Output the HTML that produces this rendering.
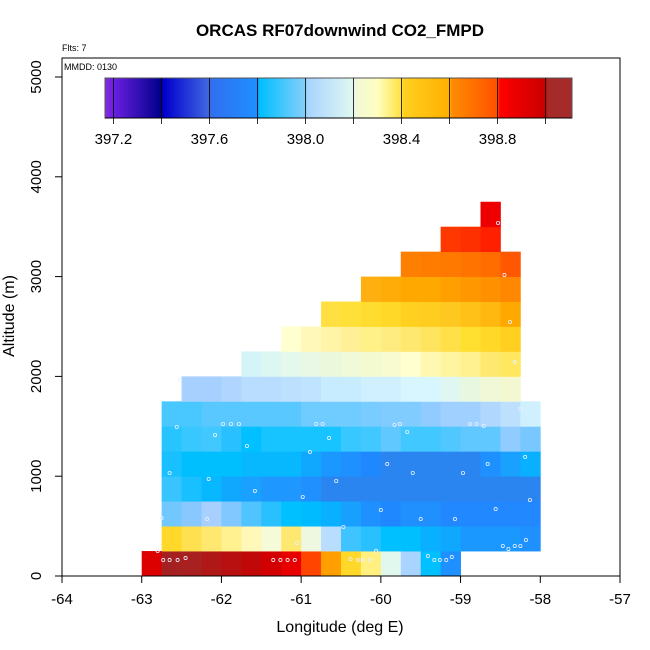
<!DOCTYPE html>
<html><head><meta charset="utf-8"><style>
body{margin:0;background:#fff}
svg{display:block;font-family:"Liberation Sans",Arial,sans-serif}
</style></head><body>
<svg id="chart" width="650" height="650" viewBox="0 0 650 650" xmlns="http://www.w3.org/2000/svg">
<text x="340" y="36" text-anchor="middle" font-size="17" font-weight="bold">ORCAS RF07downwind CO2_FMPD</text>
<text x="62" y="51" font-size="9">Flts: 7</text>
<g id="cells"></g>
<g id="points"></g>
<rect x="62" y="58" width="558" height="518" fill="none" stroke="#000" stroke-width="1"/>
<text x="64" y="70" font-size="9">MMDD: 0130</text>
<g id="cbar"></g>
<g id="axes"></g>
<text x="340" y="632" text-anchor="middle" font-size="16">Longitude (deg E)</text>
<text transform="translate(14,316) rotate(-90)" text-anchor="middle" font-size="16">Altitude (m)</text>
</svg>
<script>
const xTicks=[-64,-63,-62,-61,-60,-59,-58,-57];
const yTicks=[0,1000,2000,3000,4000,5000];
const rowAlt=[0,250,500,750,1000,1250,1500,1750,2000,2250,2500,2750,3000,3250,3500];
const rowLonStart=[-63,-62.75,-62.75,-62.75,-62.75,-62.75,-62.75,-62.5,-61.75,-61.25,-60.75,-60.25,-59.75,-59.25,-58.75];
const rowColors=[
["#dd0000","#a52020","#a82020","#b01818","#b81010","#c00808","#d20000","#e80000","#ff4500","#ffa000","#ffd82a","#fff080","#e0f8ee","#a8d4ff","#00c0ff","#1e90ff"],
["#ffd82a","#ffe050","#ffe870","#fff090","#fff8b8","#f5fad8","#ffe870","#eef8e0","#b8ddff","#40c4ff","#28c0ff","#00c0ff","#00bfff","#08b0ff","#10a8ff","#1a98ff","#1a98ff","#1a98ff","#1e90ff"],
["#70c8ff","#88c8ff","#a8d0ff","#80c8ff","#50c4ff","#28c0ff","#00c0ff","#00bbff","#08b0ff","#18a0ff","#1e90ff","#2088ff","#2090ff","#2090ff","#2288ff","#2288ff","#2288ff","#2288ff","#2288ff"],
["#38c4ff","#18c0ff","#08b8ff","#10a8ff","#1aa0ff","#1e98ff","#1e98ff","#2090ff","#2a85f0","#2a85f0","#2a85f0","#2a85f0","#2a85f0","#2a85f0","#2a85f0","#2a85f0","#2a85f0","#2a85f0","#2a85f0"],
["#18c0ff","#00bfff","#00bfff","#00bfff","#08b8ff","#08b8ff","#08b8ff","#10a8ff","#1a98ff","#1e90ff","#2088ff","#2a85f0","#2a85f0","#2a85f0","#2a85f0","#2a85f0","#1e90ff","#1aa0ff","#08b0ff"],
["#28c4ff","#38c8ff","#40c8ff","#28c0ff","#00c0ff","#18c4ff","#18c4ff","#18c4ff","#18c4ff","#38c8ff","#40c8ff","#60c8ff","#40c8ff","#40c8ff","#50c8ff","#60c8ff","#60c8ff","#90ccff","#78c8ff"],
["#48c8ff","#48c8ff","#58c8ff","#58c8ff","#58c8ff","#58c8ff","#58c8ff","#70ccff","#70ccff","#70ccff","#78ccff","#80ccff","#80ccff","#90ccff","#a0d0ff","#a0d0ff","#b0d8ff","#bde0ff","#d0f0ff"],
["#a8d0ff","#a8d0ff","#b0d6ff","#b8ddff","#b8ddff","#bde0ff","#c0e4ff","#c8ecff","#c8ecff","#d0f0ff","#d0f0ff","#d8f6ff","#d8f6ff","#e0f6f0","#e8f8e0","#f0f8d8","#f4f8d0"],
["#d4f4f8","#dcf6f2","#e4f8ec","#e8f8e4","#ecf8dc","#f0fad8","#f4fad0","#f8fad0","#ffffd0","#fff8b0","#fff4a0","#fff090","#ffe870","#ffe860"],
["#ffffd0","#fff8b8","#fff4a8","#fff098","#fff088","#ffec80","#ffe870","#ffe460","#ffe048","#ffe030","#ffd828","#ffd020"],
["#ffe040","#ffe038","#ffdc30","#ffd828","#ffd020","#ffcc20","#ffc820","#ffc018","#ffb810","#ffa800"],
["#ffb010","#ffac08","#ffa800","#ffa800","#ffa000","#ff9800","#ff9000","#ff8800"],
["#ff8000","#ff7c00","#ff7800","#ff7400","#ff6c00","#ff5800"],
["#ff3800","#ff3000","#ff2000"],
["#ee0000"]];
const ptLon=[-62.52,-62.56,-61.98,-61.88,-61.78,-62.08,-61.68,-62.16,-62.65,-62.18,-62.75,-61.58,-62.8,-62.73,-62.65,-62.55,-62.45,-61.35,-61.26,-61.17,-61.08,-60.81,-60.73,-60.65,-60.89,-60.56,-60.98,-60.47,-61.05,-60.06,-60.38,-60.29,-60.23,-60.14,-59.83,-59.76,-59.67,-59.92,-59.6,-60.0,-59.5,-59.41,-59.33,-59.26,-59.18,-59.11,-58.8,-58.71,-58.88,-58.97,-59.07,-58.66,-58.56,-58.25,-58.19,-58.13,-58.18,-58.47,-58.4,-58.32,-58.25,-58.53,-58.45,-58.38,-58.32];
const ptAlt=[1965,1493,1523,1523,1523,1413,1303,972,1032,571,581,852,250,160,160,160,180,160,160,160,160,1523,1523,1383,1242,952,792,491,331,250,170,160,160,160,1513,1523,1443,1122,1032,661,571,200,160,160,160,190,1523,1503,1523,1032,571,1122,671,1673,1192,762,361,301,271,301,301,3537,3016,2545,2144];
const cbTicks=[397.2,397.4,397.6,397.8,398.0,398.2,398.4,398.6,398.8,399.0];
const cbLabels=["397.2","397.6","398.0","398.4","398.8"];
const cbStops=[[397.165,"#8a2be2"],[397.2,"#6a1fe0"],[397.4,"#00008b"],[397.41,"#0000cd"],[397.6,"#4169e1"],[397.61,"#3070f0"],[397.8,"#1e90ff"],[397.81,"#00bfff"],[398.0,"#87cefa"],[398.01,"#a8d4ff"],[398.2,"#e0f8f0"],[398.21,"#f0f8d8"],[398.3,"#ffffc0"],[398.4,"#ffe040"],[398.41,"#ffd020"],[398.6,"#ffb000"],[398.61,"#ff8c00"],[398.8,"#ff5000"],[398.81,"#ff0000"],[399.0,"#c80000"],[399.01,"#a52a2a"],[399.11,"#a52a2a"]];
const NS="http://www.w3.org/2000/svg";
const X=v=>62+(v+64)*(558/7);
const Y=v=>576-v*(499/5000);
const CB=v=>105+(v-397.165)*(467/1.945);
function mk(tag,at,parent){const e=document.createElementNS(NS,tag);for(const k in at)e.setAttribute(k,at[k]);parent.appendChild(e);return e;}
const cells=document.getElementById('cells');
rowColors.forEach((cols,r)=>{cols.forEach((c,i)=>{
 const l=rowLonStart[r]+0.25*i;
 const x0=X(l),x1=X(l+0.25),y0=Y(rowAlt[r]+250),y1=Y(rowAlt[r]);
 const e=mk('rect',{x:x0,y:y0,width:x1-x0+0.4,height:y1-y0+0.4,fill:c},cells);
 
 
});});
const pts=document.getElementById('points');
ptLon.forEach((lo,i)=>{
 const e=mk('circle',{cx:X(lo),cy:Y(ptAlt[i]),r:1.6,fill:'none',stroke:'#e8f0ff','stroke-width':0.8},pts);
 
 
});
const ax=document.getElementById('axes');
xTicks.forEach(t=>{
 mk('line',{x1:X(t),x2:X(t),y1:576,y2:583,stroke:'#000'},ax);
 const e=mk('text',{x:X(t),y:604,'text-anchor':'middle','font-size':15},ax);e.textContent=t;
 
 
});
yTicks.forEach(t=>{
 mk('line',{x1:55,x2:62,y1:Y(t),y2:Y(t),stroke:'#000'},ax);
 const e=mk('text',{transform:`translate(41,${Y(t)}) rotate(-90)`,'text-anchor':'middle','font-size':15},ax);e.textContent=t;
 
 
});
const cb=document.getElementById('cbar');
const defs=mk('defs',{},cb);
const g=mk('linearGradient',{id:'cbg',x1:0,x2:1,y1:0,y2:0},defs);
cbStops.forEach(s=>mk('stop',{offset:((s[0]-397.165)/1.945*100)+'%','stop-color':s[1]},g));
mk('rect',{x:105,y:78,width:467,height:40,fill:'url(#cbg)',stroke:'#555','stroke-width':1},cb);
cbTicks.forEach(t=>{mk('line',{x1:CB(t),x2:CB(t),y1:78,y2:124,stroke:'#000','stroke-width':0.8},cb);});
mk('line',{x1:105,x2:572,y1:118,y2:118,stroke:'#000'},cb);
cbLabels.forEach(t=>{
 const e=mk('text',{x:CB(parseFloat(t)),y:144,'text-anchor':'middle','font-size':15},cb);e.textContent=t;
 
 
});
</script>
</body></html>
